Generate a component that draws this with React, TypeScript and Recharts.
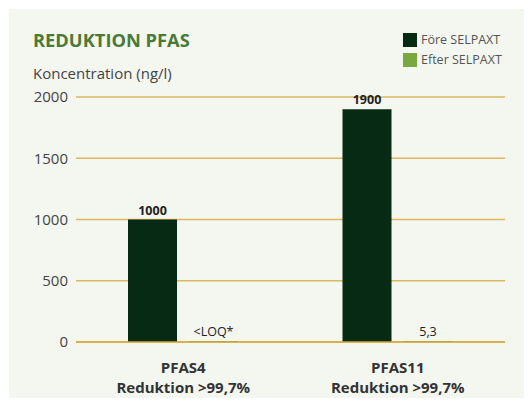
import { BarChart, Bar, XAxis, YAxis, CartesianGrid, LabelList } from "recharts";

const categories = ["PFAS4", "PFAS11"];
const subtitles = ["Reduktion >99,7%", "Reduktion >99,7%"];
const foreValues = [1000, 1900];
const efterValues = [0, 5.3];
const foreLabels = ["1000", "1900"];
const efterLabels = ["<LOQ*", "5,3"];
const yTicks = [0, 500, 1000, 1500, 2000];

const FONT = "'Open Sans', sans-serif";
const DARK = "#062a13";
const LIGHT = "#78a83f";

const data = categories.map((c, i) => ({
  name: c,
  sub: subtitles[i],
  fore: foreValues[i],
  efter: efterValues[i],
  foreLabel: foreLabels[i],
  efterLabel: efterLabels[i],
}));

function CategoryTick({ x, y, payload, index }: any) {
  return (
    <g transform={`translate(${x},${y})`} fontFamily={FONT} fontSize={15} fontWeight={700} fill="#333">
      <text x={0} y={23} textAnchor="middle">{payload.value}</text>
      <text x={0} y={43} textAnchor="middle">{data[index]?.sub}</text>
    </g>
  );
}

export default function App() {
  return (
    <div style={{ margin: -8, width: 532, height: 406, position: "relative", background: "#fff", fontFamily: FONT }}>
      <div style={{ position: "absolute", left: 9, top: 9, right: 0, bottom: 1, background: "#f4f6f0" }} />
      <div style={{ position: "absolute", left: 33, top: 27, fontSize: 18.3, fontWeight: 700, color: "#4b7a35" }}>
        REDUKTION PFAS
      </div>
      <div style={{ position: "absolute", left: 33, top: 63, fontSize: 15, color: "#444" }}>
        Koncentration (ng/l)
      </div>
      <div style={{ position: "absolute", left: 403, top: 30, fontSize: 12.5, color: "#555", lineHeight: "20px" }}>
        <div style={{ display: "flex", alignItems: "center", gap: 4 }}>
          <span style={{ width: 14, height: 14, background: DARK, display: "inline-block" }} />
          Före SELPAXT
        </div>
        <div style={{ display: "flex", alignItems: "center", gap: 4 }}>
          <span style={{ width: 14, height: 14, background: LIGHT, display: "inline-block" }} />
          Efter SELPAXT
        </div>
      </div>
      <div style={{ position: "absolute", left: 0, top: 0 }}>
        <BarChart
          width={532}
          height={406}
          data={data}
          margin={{ top: 97, right: 27, left: 16, bottom: 0 }}
          barSize={49}
          barGap={12}
        >
          <CartesianGrid vertical={false} stroke="#d9b860" strokeWidth={1.5} />
          <Bar dataKey="fore" fill={DARK} isAnimationActive={false}>
            <LabelList
              dataKey="foreLabel"
              position="top"
              offset={5}
              style={{ fontFamily: FONT, fontSize: 12.5, fontWeight: 700, fill: "#222" }}
            />
          </Bar>
          <Bar dataKey="efter" fill={LIGHT} minPointSize={1} isAnimationActive={false}>
            <LabelList
              dataKey="efterLabel"
              position="top"
              offset={5}
              style={{ fontFamily: FONT, fontSize: 12.5, fill: "#222" }}
            />
          </Bar>
          <XAxis
            dataKey="name"
            axisLine={{ stroke: "#d9a93a", strokeWidth: 1.5 }}
            tickLine={false}
            height={64}
            tick={<CategoryTick />}
            interval={0}
          />
          <YAxis
            width={60}
            domain={[0, 2000]}
            ticks={yTicks}
            axisLine={false}
            tickLine={false}
            tick={{ fontFamily: FONT, fontSize: 15, fill: "#444" }}
          />
        </BarChart>
      </div>
    </div>
  );
}
